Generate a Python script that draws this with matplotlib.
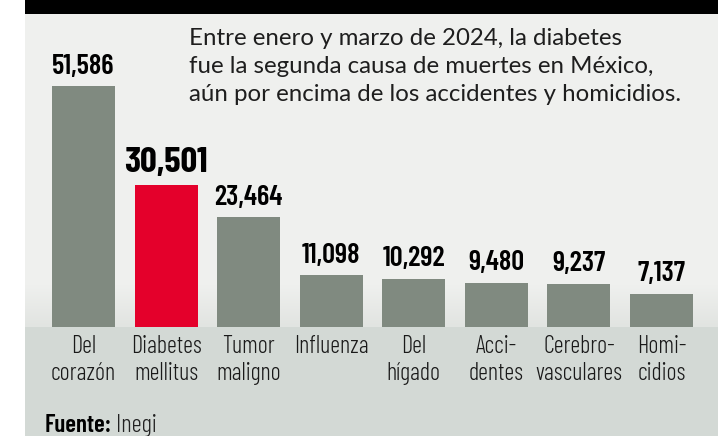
import numpy as np
import matplotlib.pyplot as plt
from matplotlib.colors import LinearSegmentedColormap

categorias = ["Del\ncorazón", "Diabetes\nmellitus", "Tumor\nmaligno", "Influenza",
              "Del\nhígado", "Acci-\ndentes", "Cerebro-\nvasculares", "Homi-\ncidios"]
muertes = [51586, 30501, 23464, 11098, 10292, 9480, 9237, 7137]
destacado = 1  # diabetes

nota = ("Entre enero y marzo de 2024, la diabetes\n"
        "fue la segunda causa de muertes en México,\n"
        "aún por encima de los accidentes y homicidios.")

GRIS = "#808a80"
ROJO = "#e4002b"
FONDO = "#eff0ee"
FONDO_BAJO = "#d3d9d5"
COND = ["Barlow Condensed", "DejaVu Sans"]
TEXTO = ["Lato", "DejaVu Sans"]

W, H = 718, 436
fig = plt.figure(figsize=(W / 100, H / 100), dpi=100)

# fondo en coordenadas de pixel
bg = fig.add_axes([0, 0, 1, 1])
bg.axis("off")
bg.add_patch(plt.Rectangle((25, 0), W - 25, 14, color="black", lw=0))
bg.add_patch(plt.Rectangle((25, 14), W - 25, 313, color=FONDO, lw=0))
bg.add_patch(plt.Rectangle((25, 327), W - 25, H - 327, color=FONDO_BAJO, lw=0))
grad = LinearSegmentedColormap.from_list("g", [FONDO, "#e1e4e1"])
bg.imshow(np.linspace(0, 1, 50).reshape(-1, 1), cmap=grad, aspect="auto",
          extent=(25, W, 327, 285), zorder=1)
bg.set_xlim(0, W)
bg.set_ylim(H, 0)

bg.text(189, 28, nota, fontsize=17.3, family=TEXTO, color="#1e1e1e",
        va="top", ha="left", linespacing=1.42, zorder=3)
fuente = bg.text(45, 432, "Fuente:", fontsize=18, family=COND, fontweight=600,
                 va="baseline", ha="left", zorder=3)
bg.annotate("Inegi", xy=(1, 0), xycoords=fuente, xytext=(3, 0), textcoords="offset points",
            fontsize=18, family=COND, fontweight=300, va="bottom", ha="left",
            color="#222222", zorder=3)

# barras
ax = fig.add_axes([25 / W, (H - 327) / H, (W - 25) / W, 313 / H])
ax.patch.set_alpha(0)
ax.axis("off")
x = np.arange(len(muertes))
colores = [ROJO if i == destacado else GRIS for i in x]
ax.bar(x, muertes, width=0.763, color=colores, zorder=2)
ax.set_xlim(-0.708, 7.684)
ax.set_ylim(0, 67000)

for i, v in enumerate(muertes):
    grande = i == destacado
    ax.annotate(f"{v:,}", xy=(i, v), xytext=(0, 9), textcoords="offset points",
                ha="center", va="baseline", family=COND, fontweight=700 if grande else 600,
                fontsize=26.5 if grande else 20.5, color="black")
    ax.annotate(categorias[i], xy=(i, 0), xytext=(0, -6), textcoords="offset points",
                ha="center", va="top", family=COND, fontweight=300, fontsize=17.5,
                color="#1a1a1a", linespacing=1.2, annotation_clip=False)

fig.savefig("out.png", dpi=100)
